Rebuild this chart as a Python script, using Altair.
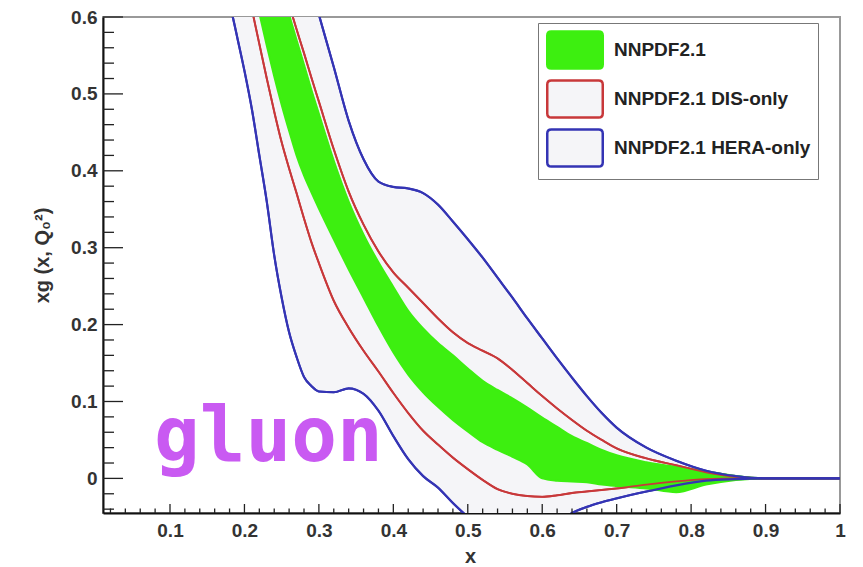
import altair as alt
import pandas as pd

# ---------------- data ----------------
x_grid = [0.17, 0.18, 0.19, 0.20, 0.21, 0.22, 0.23, 0.24, 0.25, 0.26, 0.27, 0.28, 0.29, 0.30,
          0.32, 0.34, 0.36, 0.38, 0.40, 0.42, 0.44, 0.46, 0.48, 0.50, 0.52, 0.54, 0.56, 0.58,
          0.60, 0.62, 0.64, 0.66, 0.68, 0.70, 0.74, 0.78, 0.82, 0.86, 0.90, 0.95, 1.00]

# NNPDF2.1 (green band)
nn_lo = [0.75, 0.75, 0.75, 0.70, 0.65, 0.605, 0.563, 0.523, 0.486, 0.452, 0.42, 0.394, 0.372, 0.351,
         0.311, 0.272, 0.235, 0.198, 0.164, 0.135, 0.112, 0.093, 0.076, 0.061, 0.047, 0.037, 0.028, 0.018,
         0.0, -0.003, -0.004, -0.005, -0.008, -0.010, -0.013, -0.018, -0.008, -0.002, 0.0, 0.0, 0.0]
nn_hi = [0.75, 0.75, 0.75, 0.75, 0.75, 0.75, 0.71, 0.67, 0.635, 0.603, 0.57, 0.538, 0.505, 0.474,
         0.413, 0.36, 0.317, 0.281, 0.249, 0.218, 0.195, 0.176, 0.16, 0.143, 0.127, 0.115, 0.104, 0.092,
         0.079, 0.067, 0.055, 0.046, 0.037, 0.030, 0.021, 0.015, 0.009, 0.003, 0.0, 0.0, 0.0]

# NNPDF2.1 DIS-only (red band)
dis_lo = [0.75, 0.75, 0.70, 0.655, 0.61, 0.565, 0.52, 0.477, 0.437, 0.403, 0.371, 0.338, 0.307, 0.28,
          0.231, 0.196, 0.166, 0.139, 0.111, 0.085, 0.062, 0.044, 0.027, 0.012, -0.002, -0.014, -0.020, -0.023,
          -0.024, -0.022, -0.019, -0.017, -0.015, -0.013, -0.008, -0.004, -0.001, 0.0, 0.0, 0.0, 0.0]
dis_hi = [0.75, 0.75, 0.75, 0.75, 0.75, 0.75, 0.71, 0.68, 0.648, 0.616, 0.584, 0.553, 0.521, 0.49,
          0.428, 0.373, 0.33, 0.295, 0.268, 0.248, 0.228, 0.208, 0.19, 0.176, 0.166, 0.156, 0.141, 0.124,
          0.107, 0.091, 0.076, 0.062, 0.05, 0.039, 0.026, 0.017, 0.008, 0.002, 0.0, 0.0, 0.0]

# NNPDF2.1 HERA-only (blue band)
hera_lo = [0.67, 0.62, 0.575, 0.53, 0.48, 0.42, 0.36, 0.29, 0.235, 0.19, 0.158, 0.132, 0.12, 0.113,
           0.112, 0.117, 0.11, 0.088, 0.055, 0.025, 0.003, -0.012, -0.032, -0.05, -0.066, -0.076, -0.08, -0.077,
           -0.07, -0.058, -0.045, -0.037, -0.031, -0.026, -0.017, -0.009, -0.003, -0.001, 0.0, 0.0, 0.0]
hera_hi = [0.75, 0.75, 0.75, 0.75, 0.75, 0.75, 0.75, 0.75, 0.75, 0.74, 0.707, 0.672, 0.638, 0.603,
           0.535, 0.465, 0.415, 0.386, 0.379, 0.377, 0.371, 0.356, 0.334, 0.311, 0.287, 0.261, 0.235, 0.208,
           0.182, 0.156, 0.131, 0.107, 0.085, 0.066, 0.040, 0.023, 0.010, 0.003, 0.0, 0.0, 0.0]

series_names = ["NNPDF2.1", "NNPDF2.1 DIS-only", "NNPDF2.1 HERA-only"]
fill_colors = ["#3DEF10", "#F5F5F8", "#F5F5F8"]
line_colors = ["#3DEF10", "#C8383A", "#3434B4"]

x_major = [0.1, 0.2, 0.3, 0.4, 0.5, 0.6, 0.7, 0.8, 0.9, 1.0]
x_minor = [round(0.02 * i, 2) for i in range(1, 50) if i % 5 != 0]
y_major = [0.0, 0.1, 0.2, 0.3, 0.4, 0.5, 0.6]
y_minor = [round(-0.04 + 0.02 * i, 2) for i in range(0, 32) if (i - 2) % 5 != 0]

# ---------------- tables ----------------
PAD = "\u00a0" * 6  # trailing blank room inside the legend frame
keys = [s + PAD for s in series_names]

band_rows = []
line_rows = []
for key, lo, hi in [(keys[0], nn_lo, nn_hi),
                    (keys[1], dis_lo, dis_hi),
                    (keys[2], hera_lo, hera_hi)]:
    for xv, l, h in zip(x_grid, lo, hi):
        band_rows.append({"series": key, "x": xv, "lo": l, "hi": h})
        line_rows.append({"series": key, "bound": "lo", "x": xv, "y": l})
        line_rows.append({"series": key, "bound": "hi", "x": xv, "y": h})
band_df = pd.DataFrame(band_rows)
line_df = pd.DataFrame(line_rows)

W, H = 737, 496
xs = alt.Scale(domain=[0.01, 1.0], nice=False, zero=False)
ys = alt.Scale(domain=[-0.045, 0.6], nice=False, zero=False)

FONT = "Liberation Sans"

legend = alt.Legend(
    title=None, orient="none", legendX=435, legendY=6,
    symbolType="M-1.28,-1H1.28Q1.5,-1,1.5,-0.78V0.78Q1.5,1,1.28,1H-1.28Q-1.5,1,-1.5,0.78V-0.78Q-1.5,-1,-1.28,-1Z",
    symbolSize=1369, symbolStrokeWidth=2.5, symbolOpacity=1,
    labelFont=FONT, labelFontSize=19, labelFontWeight="bold", labelColor="#222",
    labelOffset=19, symbolOffset=10, padding=7, rowPadding=1, labelLimit=500,
    fillColor="white", strokeColor="#777",
)

x_axis = alt.Axis(values=x_major, format="~g", title="x", ticks=False, grid=False,
                  domainColor="#111", domainWidth=2, labelFont=FONT, labelFontSize=19,
                  labelFontWeight="bold", labelColor="#333", labelPadding=8,
                  titleFont=FONT, titleFontSize=20, titleFontWeight="bold", titleColor="#333",
                  titleX=367, titleY=49, titleBaseline="alphabetic", titleAlign="center",
                  labelFlush=False, labelOverlap=False)
y_axis = alt.Axis(values=y_major, format="~g", title="xg (x, Q₀²)", ticks=False, grid=False,
                  domainColor="#111", domainWidth=2, labelFont=FONT, labelFontSize=19,
                  labelFontWeight="bold", labelColor="#333", labelPadding=6,
                  titleFont=FONT, titleFontSize=20, titleFontWeight="bold", titleColor="#333",
                  titleAngle=270, titleX=-61, titleY=238, titleAlign="center", titleBaseline="middle",
                  labelFlush=False, labelOverlap=False)


def band(key):
    return alt.Chart(band_df).transform_filter(alt.datum.series == key).mark_area(
        clip=True, interpolate="monotone", strokeWidth=2
    ).encode(
        x=alt.X("x:Q", scale=xs, axis=x_axis),
        y=alt.Y("lo:Q", scale=ys, axis=y_axis),
        y2="hi:Q",
        fill=alt.Fill("series:N", scale=alt.Scale(domain=keys, range=fill_colors), legend=legend),
        stroke=alt.Stroke("series:N", scale=alt.Scale(domain=keys, range=line_colors), legend=legend),
    )


def lines(key, color, width):
    return alt.Chart(line_df).transform_filter(alt.datum.series == key).mark_line(
        clip=True, interpolate="monotone", strokeWidth=width
    ).encode(
        x=alt.X("x:Q", scale=xs, axis=x_axis),
        y=alt.Y("y:Q", scale=ys, axis=y_axis),
        detail="bound:N",
        stroke=alt.value(color),
    )


def ticks_x(vals, length):
    return alt.Chart(pd.DataFrame({"t": vals})).mark_rule(color="#222", strokeWidth=1.3).encode(
        x=alt.X("t:Q", scale=xs, axis=x_axis),
        y=alt.value(H), y2=alt.value(H - length),
    )


def ticks_y(vals, length):
    return alt.Chart(pd.DataFrame({"t": vals})).mark_rule(color="#222", strokeWidth=1.3).encode(
        y=alt.Y("t:Q", scale=ys, axis=y_axis),
        x=alt.value(0), x2=alt.value(length),
    )


label = alt.Chart(pd.DataFrame({"txt": ["gluon"]})).mark_text(
    font="DejaVu Sans Mono", fontSize=76, fontWeight="bold", color="#C95AF2",
    align="center", baseline="alphabetic"
).encode(
    x=alt.X("gx:Q", scale=xs, axis=x_axis), y=alt.Y("gy:Q", scale=ys, axis=y_axis), text="txt:N"
).transform_calculate(gx="0.232", gy="0.022")

chart = alt.layer(
    band(keys[2]),
    band(keys[1]),
    band(keys[0]),
    lines(keys[1], line_colors[1], 1.8),
    lines(keys[2], line_colors[2], 2.2),
    ticks_x(x_major, 9), ticks_x(x_minor, 4.5),
    ticks_y(y_major, 20), ticks_y(y_minor, 11),
    label,
).properties(
    width=W, height=H,
    padding={"left": 103, "top": 17, "right": 23, "bottom": 54},
    autosize=alt.AutoSizeParams(type="none"),
    background="white",
).configure_view(stroke="#999", strokeWidth=2)

chart.save("out.html", embed_options={"renderer": "svg", "actions": False})
